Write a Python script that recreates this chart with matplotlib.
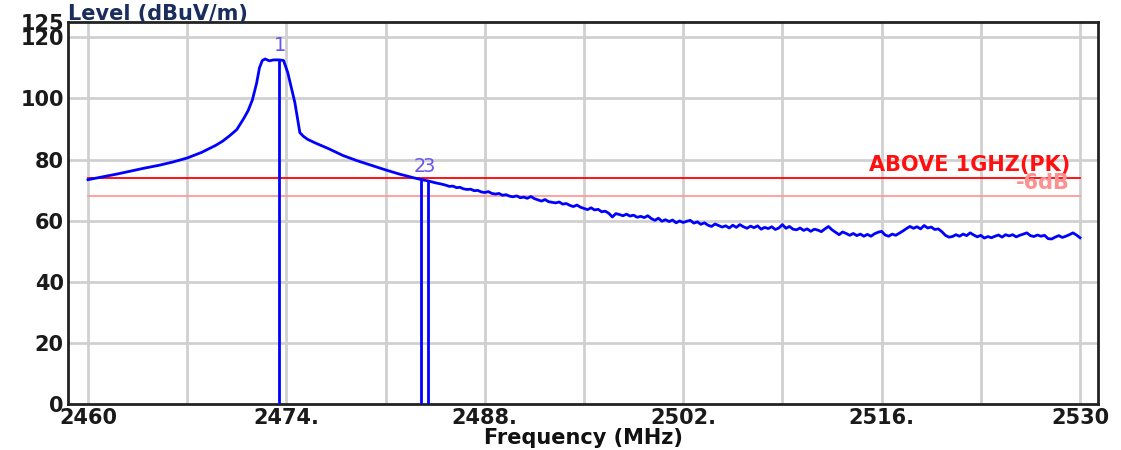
import numpy as np
import matplotlib
matplotlib.use('Agg')
import matplotlib.pyplot as plt

# spectrum trace, smooth part (MHz, dBuV/m)
freq_main = [2460.0, 2461.0, 2462.0, 2463.0, 2464.0, 2465.0, 2466.0, 2467.0,
             2468.0, 2469.0, 2469.5, 2470.0, 2470.5, 2471.0, 2471.3, 2471.6,
             2471.9, 2472.1, 2472.3, 2472.5, 2472.8, 2473.1, 2473.5, 2473.8,
             2474.1, 2474.35, 2474.6, 2474.8, 2474.95, 2475.2, 2475.5, 2476.0,
             2477.0, 2478.0, 2479.0, 2480.0, 2481.0, 2482.0, 2483.0, 2483.55,
             2484.0, 2484.5]
level_main = [73.4, 74.3, 75.2, 76.2, 77.2, 78.1, 79.2, 80.5,
              82.3, 84.6, 86.0, 87.8, 89.8, 93.5, 96.0, 99.5,
              105.0, 110.0, 112.4, 112.9, 112.3, 112.6, 112.6, 112.4,
              108.4, 103.5, 98.6, 93.0, 88.8, 87.6, 86.6, 85.5,
              83.5, 81.3, 79.6, 78.1, 76.6, 75.2, 74.0, 73.4,
              73.0, 72.4]

# noisy part, 2485 .. 2530 MHz every 0.25 MHz
freq_tail = np.arange(2485.0, 2530.01, 0.25)
level_tail = [
    71.9, 71.6, 71.2, 71.3, 70.8, 70.9, 70.4, 70.2, 70.3, 69.8, 69.9, 69.4,
    69.2, 69.5, 68.9, 68.7, 68.9, 68.3, 68.5, 68.0, 67.8, 68.1, 67.5, 67.7,
    67.3, 67.9, 67.2, 66.8, 66.4, 66.9, 66.2, 66.0, 65.8, 66.1, 65.4, 65.6,
    65.0, 64.6, 65.1, 64.4, 64.0, 63.6, 64.2, 63.5, 63.7, 62.9, 63.1, 62.4,
    61.2, 62.3, 62.0, 61.6, 62.1, 61.5, 61.8, 61.1, 61.4, 61.0, 61.6, 60.7,
    60.1, 60.8, 59.8, 60.3, 59.7, 60.2, 59.3, 59.9, 59.4, 59.8, 60.1, 59.2,
    59.6, 58.8, 59.3, 58.5, 58.1, 58.9, 58.4, 57.9, 58.3, 57.6, 58.5, 57.8,
    58.7, 58.0, 57.5, 58.2, 57.7, 58.3, 57.2, 57.8, 57.4, 58.0, 57.1, 57.6,
    58.7, 57.5, 58.1, 57.2, 57.0, 57.6, 56.8, 57.3, 56.5, 57.2, 56.9, 56.4,
    57.3, 58.1, 57.0, 56.2, 55.4, 56.3, 55.8, 55.2, 55.8, 55.1, 55.6, 54.9,
    55.5, 54.9, 55.7, 56.2, 56.5, 55.3, 54.9, 55.6, 55.2, 55.9, 56.6, 57.4,
    58.1, 57.5, 58.0, 57.3, 58.4, 57.6, 57.9, 57.1, 57.3, 56.4, 55.2, 54.6,
    54.8, 55.4, 54.9, 55.6, 55.1, 56.0, 55.3, 54.7, 55.2, 54.3, 54.8, 54.4,
    54.9, 55.3, 54.6, 55.4, 55.0, 55.4, 54.7, 55.2, 55.6, 56.0, 55.1, 54.8,
    55.3, 54.9, 55.2, 54.1, 54.0, 54.6, 55.1, 54.5, 54.9, 55.4, 56.0, 55.3,
    54.4]

# markers
marker_freq = [2473.45, 2483.5, 2484.0]
marker_level = [112.6, 73.4, 72.9]
marker_text = ['1', '2', '3']

limit_pk = 74.0
limit_6db = 68.0

xticks = [2460, 2474, 2488, 2502, 2516, 2530]
xticklabels = ['2460', '2474.', '2488.', '2502.', '2516.', '2530']
yticks = [0, 20, 40, 60, 80, 100, 120, 125]

freq = np.concatenate([freq_main, freq_tail])
level = np.concatenate([level_main, level_tail])

plt.rcParams['font.family'] = 'DejaVu Sans'
plt.rcParams['font.weight'] = 'bold'
fs = 15

fig = plt.figure(figsize=(11.21, 4.5), dpi=100)
ax = fig.add_axes([68/1121, 1-404/450, 1030/1121, 382/450])

# grid
for x in range(2460, 2531, 7):
    ax.axvline(x, color='#d0d0d0', lw=2, zorder=0)
for y in yticks[1:-1]:
    ax.axhline(y, color='#d0d0d0', lw=2, zorder=0)

ax.plot([2460, 2530], [limit_pk, limit_pk], color='#ff0000', lw=1.3, zorder=2)
ax.plot([2460, 2530], [limit_6db, limit_6db], color='#ff9a9a', lw=1.3, zorder=2)
ax.text(2529.3, limit_pk + 0.9, 'ABOVE 1GHZ(PK)', color='#ff1010',
        fontsize=fs, ha='right', va='bottom', fontweight='bold')
ax.text(2529.3, limit_6db + 0.9, '-6dB', color='#ff9090',
        fontsize=fs, ha='right', va='bottom', fontweight='bold')

ax.plot(freq, level, color='#0000ff', lw=2, zorder=3)
ax.vlines(marker_freq, 0, marker_level, color='#0000ff', lw=2, zorder=3)
ax.text(marker_freq[0] + 0.1, marker_level[0] + 1.6, marker_text[0],
        color='#6655ee', fontsize=14, ha='center', va='bottom', fontweight='normal')
ax.text(marker_freq[1] - 0.05, marker_level[1] + 1.2, marker_text[1],
        color='#6655ee', fontsize=14, ha='center', va='bottom', fontweight='normal')
ax.text(marker_freq[2] + 0.05, marker_level[2] + 1.7, marker_text[2],
        color='#6655ee', fontsize=14, ha='center', va='bottom', fontweight='normal')

ax.set_xlim(2458.59, 2531.27)
ax.set_ylim(0, 125)
ax.set_xticks(xticks)
ax.set_xticklabels(xticklabels)
ax.set_yticks(yticks)
ax.tick_params(length=0, labelsize=fs, colors='#1a1a1a', pad=3)
ax.tick_params(axis='y', pad=3)
for s in ax.spines.values():
    s.set_linewidth(2)
    s.set_color('#222222')

ax.set_xlabel('Frequency (MHz)', fontsize=fs, fontweight='bold',
              color='#111111', labelpad=0)
ax.text(0.0, 0.996, 'Level (dBuV/m)', transform=ax.transAxes, fontsize=fs,
        fontweight='bold', color='#1a2d5c', ha='left', va='bottom')

fig.savefig('out.png', dpi=100)
